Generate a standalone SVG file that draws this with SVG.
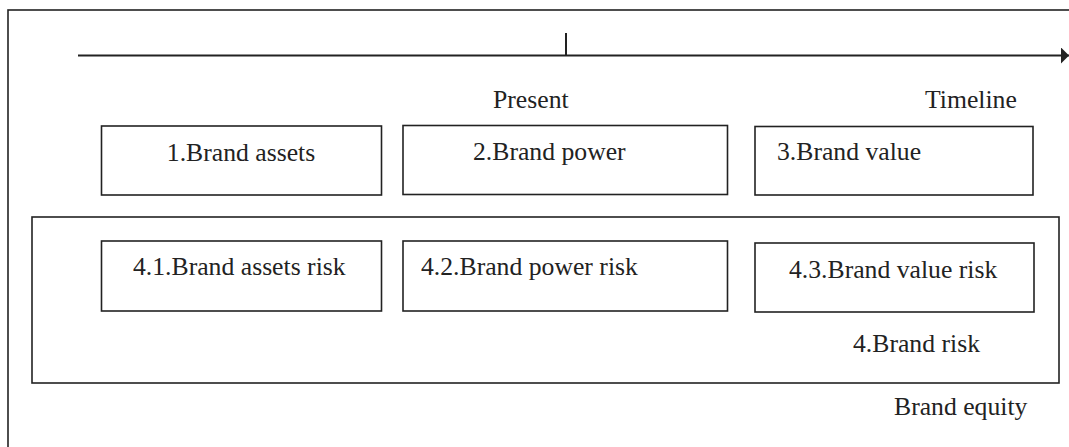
<svg xmlns="http://www.w3.org/2000/svg" width="1069" height="447" viewBox="0 0 1069 447">
<style>
.box{fill:none;stroke:#222;stroke-width:1.6}
.t{font-family:"Liberation Serif","Times New Roman",Times,serif;font-size:25.7px;fill:#222}
.ln{stroke:#222;stroke-width:2;fill:none}
</style>
<defs>
<marker id="ah" markerWidth="8" markerHeight="16" refX="8" refY="8" orient="auto" markerUnits="userSpaceOnUse">
<path d="M0,0 L8,8 L0,16 Z" fill="#222"/>
</marker>
</defs>
<rect width="1069" height="447" fill="#fff"/>
<g id="frame"><rect class="box" x="8" y="10" width="1070" height="450"/></g>
<g id="connectors">
<line class="ln" x1="78" y1="55.5" x2="1069" y2="55.5" marker-end="url(#ah)"/>
<line class="ln" x1="566" y1="33" x2="566" y2="55.5"/>
</g>
<text class="t" x="493" y="108">Present</text>
<text class="t" x="925" y="108">Timeline</text>
<g id="n1"><rect class="box" x="101.5" y="126" width="280" height="69"/><text class="t" x="241" y="161" text-anchor="middle">1.Brand assets</text></g>
<g id="n2"><rect class="box" x="403" y="125.5" width="324.5" height="69"/><text class="t" x="473" y="160">2.Brand power</text></g>
<g id="n3"><rect class="box" x="755" y="126.5" width="278" height="68.5"/><text class="t" x="777" y="160">3.Brand value</text></g>
<g id="n4"><rect class="box" x="32" y="217" width="1027" height="166"/><text class="t" x="853" y="352">4.Brand risk</text></g>
<g id="n41"><rect class="box" x="101.5" y="241" width="280" height="70"/><text class="t" x="133" y="275">4.1.Brand assets risk</text></g>
<g id="n42"><rect class="box" x="403" y="241" width="324.5" height="70"/><text class="t" x="421" y="275">4.2.Brand power risk</text></g>
<g id="n43"><rect class="box" x="755" y="243" width="279" height="69"/><text class="t" x="789" y="278">4.3.Brand value risk</text></g>
<text class="t" x="894" y="415">Brand equity</text>
</svg>
